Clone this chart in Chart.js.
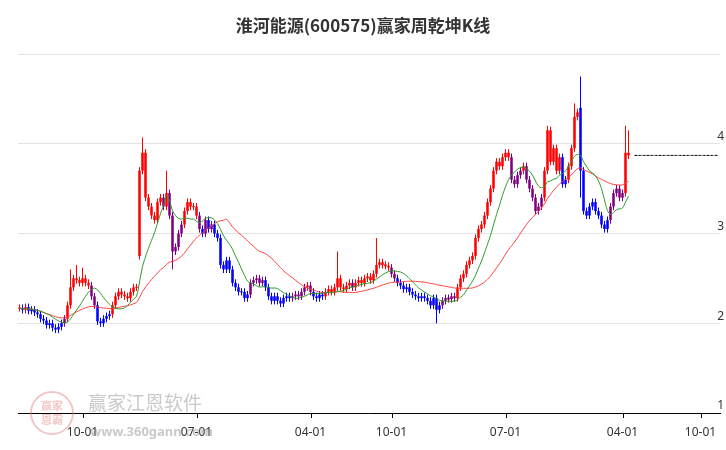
<!DOCTYPE html>
<html><head><meta charset="utf-8">
<script src="https://cdn.jsdelivr.net/npm/chart.js@4"></script>
<style>body{margin:0;background:#fff}#w{width:726px;height:450px}</style>
</head><body><div id="w"><canvas id="c"></canvas></div>
<script>
const closes=[2.17,2.15,2.18,2.14,2.15,2.12,2.10,2.05,2.03,1.98,2.00,1.95,1.93,1.96,2.00,2.05,2.20,2.40,2.50,2.48,2.45,2.50,2.45,2.42,2.30,2.20,2.02,2.00,2.05,2.08,2.10,2.20,2.30,2.35,2.32,2.30,2.28,2.35,2.40,2.40,3.70,3.90,3.40,3.30,3.20,3.15,3.35,3.40,3.30,3.45,3.20,2.80,2.85,3.00,3.10,3.25,3.35,3.30,3.30,3.20,3.05,3.00,3.15,3.05,3.10,3.00,2.95,2.65,2.60,2.70,2.60,2.45,2.40,2.35,2.35,2.28,2.32,2.45,2.48,2.50,2.45,2.48,2.40,2.30,2.25,2.30,2.25,2.22,2.28,2.30,2.28,2.30,2.32,2.30,2.35,2.40,2.42,2.35,2.30,2.28,2.32,2.30,2.35,2.38,2.35,2.40,2.50,2.40,2.38,2.42,2.45,2.40,2.45,2.48,2.45,2.50,2.52,2.48,2.55,2.65,2.68,2.65,2.64,2.62,2.55,2.50,2.45,2.42,2.38,2.40,2.35,2.32,2.30,2.28,2.30,2.28,2.25,2.20,2.28,2.15,2.20,2.25,2.28,2.27,2.30,2.28,2.40,2.50,2.55,2.65,2.70,2.75,2.95,3.05,3.10,3.20,3.35,3.50,3.70,3.80,3.75,3.85,3.90,3.85,3.60,3.55,3.65,3.70,3.75,3.60,3.50,3.40,3.25,3.30,3.40,3.70,4.15,3.80,3.95,3.70,3.85,3.55,3.60,3.75,3.95,4.30,4.35,3.70,3.25,3.20,3.30,3.35,3.25,3.20,3.10,3.05,3.15,3.30,3.45,3.50,3.40,3.45,3.90,3.87];
const openOverrides={40:2.75,187:4.4,202:3.45};
const highSpikes={17:2.6,19:2.65,21:2.62,41:4.07,49:3.7,106:2.8,119:2.95,176:4.2,185:4.45,187:4.75,202:4.2,203:4.15};
const lowSpikes={51:2.6,139:2.0,187:3.4};
const tickIdx=[21,59,97,124,162,201,227];
const tickText=['10-01','07-01','04-01','10-01','07-01','04-01','10-01'];
const yLabels=[1,2,3,4];
const totalWeeks=234;

const n=closes.length;
const opens=closes.map((c,i)=>openOverrides[i]!==undefined?openOverrides[i]:(i?closes[i-1]:c));
function sma(p){return closes.map((c,i)=>{const s=Math.max(0,i-p+1);const a=closes.slice(s,i+1);return a.reduce((x,y)=>x+y,0)/a.length;});}
const maS=sma(10),maL=sma(30);
const labels=[...Array(totalWeeks).keys()];
const body=[],wick=[],cols=[];
for(let i=0;i<n;i++){
  let o=opens[i],c=closes[i];
  let lo=Math.min(o,c),hi=Math.max(o,c);
  if(hi-lo<0.012){hi+=0.006;lo-=0.006;}
  body.push([lo,hi]);
  wick.push([lowSpikes[i]??Math.min(o,c)-0.04,highSpikes[i]??Math.max(o,c)+0.04]);
  const m=maL[i],ms=maS[i];
  let col;
  if(c>=m&&c>=ms)col='#ff0000';
  else if(c<m&&c<ms)col='#0000ff';
  else col='#800080';
  cols.push(col);
}
const last=labels.map(i=>i>=n+1?closes[n-1]:null);

const deco={id:'deco',afterDraw(ch){
  const g=ch.ctx,y=ch.scales.y,x=ch.scales.x,a=ch.chartArea;
  g.save();
  g.fillStyle='#333';g.font='bold 17px "Noto Sans CJK SC"';g.textAlign='center';g.textBaseline='middle';
  g.fillText('淮河能源(600575)赢家周乾坤K线',363,26);
  g.font='12px "Noto Sans"';g.textAlign='right';g.textBaseline='bottom';g.fillStyle='#333';
  yLabels.forEach(v=>g.fillText(String(v),724,y.getPixelForValue(v)-1));
  g.strokeStyle='#000';g.lineWidth=1;
  tickIdx.forEach(t=>{const px=Math.round(x.getPixelForValue(t))+0.5;g.beginPath();g.moveTo(px,a.bottom);g.lineTo(px,a.bottom+5);g.stroke();});
  g.globalAlpha=0.4;
  g.strokeStyle='#e07070';g.lineWidth=2;g.beginPath();g.arc(52,413,21,0,Math.PI*2);g.stroke();
  g.fillStyle='#e07070';g.font='bold 11px "Noto Sans CJK SC"';g.textAlign='center';g.textBaseline='middle';
  g.fillText('赢家',52,406);g.fillText('恩霸',52,420);
  g.fillStyle='#777';g.font='19px "Noto Sans CJK SC"';g.textAlign='left';
  g.fillText('赢家江恩软件',88,403);
  g.font='bold 13px "Noto Sans"';g.fillText('www.360gann.com',90,432);
  g.restore();
}};

new Chart(document.getElementById('c'),{
  data:{labels,datasets:[
    {type:'line',data:last,borderColor:'#000',borderWidth:1,borderDash:[3,1],pointRadius:0,order:0},
    {type:'line',data:maS,borderColor:'#2a9a2a',borderWidth:1,pointRadius:0,tension:0.4,order:1},
    {type:'line',data:maL,borderColor:'#ff4040',borderWidth:1,pointRadius:0,tension:0.4,order:2},
    {type:'bar',data:body,backgroundColor:cols,barPercentage:0.85,categoryPercentage:1,grouped:false,order:3},
    {type:'bar',data:wick,backgroundColor:cols,barPercentage:0.35,categoryPercentage:1,grouped:false,order:4}
  ]},
  options:{responsive:true,maintainAspectRatio:false,animation:false,
    layout:{padding:{left:18,right:6,top:54,bottom:0}},
    plugins:{legend:{display:false},tooltip:{enabled:false}},
    scales:{
      x:{grid:{display:false},border:{color:'#000'},afterFit(s){s.height=37;},
        ticks:{autoSkip:false,maxRotation:0,padding:4,color:'#333',font:{size:12,family:'Noto Sans'},
          callback:(v,i)=>{const k=tickIdx.indexOf(i);return k>=0?tickText[k]:'';}}},
      y:{position:'right',min:1,max:5,afterFit(s){s.width=0;},border:{display:false},
        grid:{color:'#e3e3e3',drawTicks:false},ticks:{display:false,stepSize:1}}
    }},
  plugins:[deco]
});
</script></body></html>
